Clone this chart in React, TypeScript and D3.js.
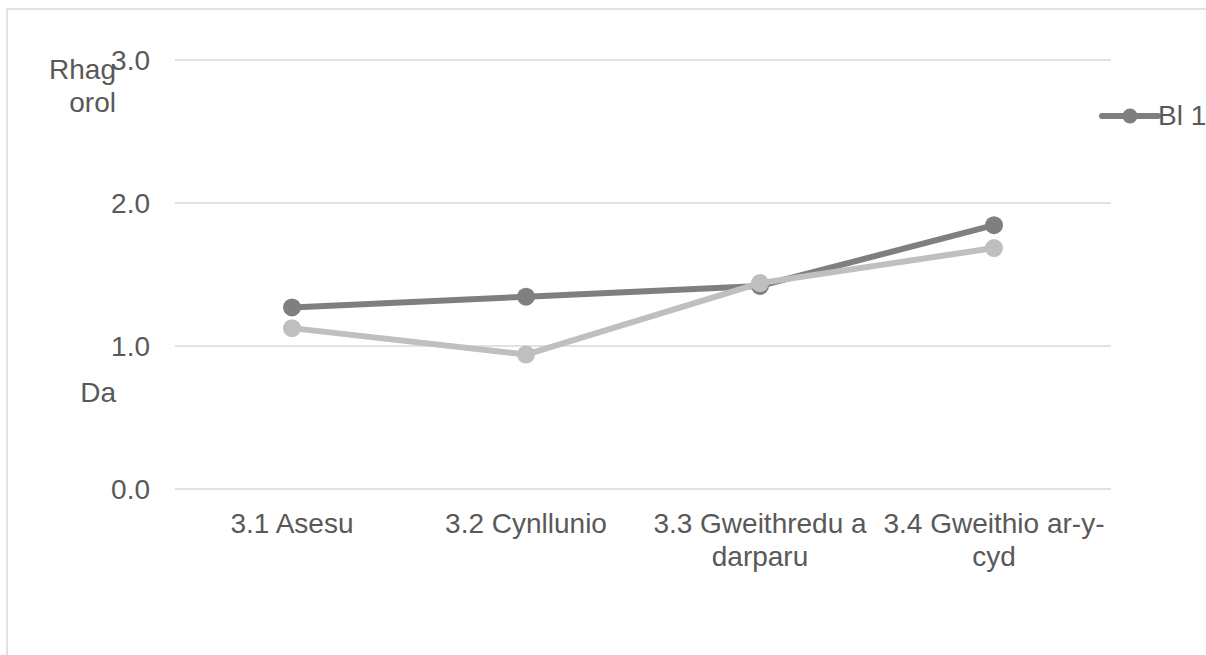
import * as d3 from 'd3'

const CATEGORIES = ['3.1 Asesu', '3.2 Cynllunio', '3.3 Gweithredu a darparu', '3.4 Gweithio ar-y-cyd']
const CATEGORY_LINES = [['3.1 Asesu'], ['3.2 Cynllunio'], ['3.3 Gweithredu a', 'darparu'], ['3.4 Gweithio ar-y-', 'cyd']]
const SERIES_DARK = [1.27, 1.345, 1.42, 1.845]
const SERIES_LIGHT = [1.125, 0.94, 1.44, 1.685]
const Y_TICKS = [0, 1, 2, 3]
const LEGEND_LABEL = 'Bl 1'

const WIDTH = 1206
const HEIGHT = 655
const PLOT = { left: 175, right: 1111, top: 60, bottom: 489 }
const FONT = '"Liberation Sans", Arial, sans-serif'
const TEXT = '#595959'
const DARK = '#7f7f7f'
const LIGHT = '#bfbfbf'
const GRID = '#d9d9d9'

export default function App() {
  const x = d3.scaleBand().domain(CATEGORIES).range([PLOT.left, PLOT.right])
  const y = d3.scaleLinear().domain([0, 3]).range([PLOT.bottom, PLOT.top])
  const cx = (c: string) => (x(c) ?? 0) + x.bandwidth() / 2

  const line = d3
    .line<number>()
    .x((_, i) => cx(CATEGORIES[i]))
    .y((v) => y(v))

  const series = [
    { values: SERIES_DARK, color: DARK },
    { values: SERIES_LIGHT, color: LIGHT },
  ]

  return (
    <svg
      width={WIDTH}
      height={HEIGHT}
      style={{ position: 'absolute', left: 0, top: 0, background: '#fff' }}
      fontFamily={FONT}
    >
      <rect x={7} y={9} width={1300} height={700} fill="#fff" stroke={GRID} strokeWidth={1.5} />

      {Y_TICKS.map((t) => (
        <g key={t}>
          <line x1={PLOT.left} x2={PLOT.right} y1={y(t)} y2={y(t)} stroke={GRID} strokeWidth={1.5} />
          <text x={150} y={y(t) + 10} textAnchor="end" fontSize={28} fill={TEXT}>
            {t.toFixed(1)}
          </text>
        </g>
      ))}

      <g fontSize={28} fill={TEXT} textAnchor="end">
        <text x={116} y={79}>Rhag</text>
        <text x={116} y={112}>orol</text>
        <text x={116} y={402}>Da</text>
      </g>

      {CATEGORIES.map((c, i) => (
        <text key={c} x={cx(c)} textAnchor="middle" fontSize={28} fill={TEXT}>
          {CATEGORY_LINES[i].map((l, j) => (
            <tspan key={j} x={cx(c)} y={533 + j * 32.5}>
              {l}
            </tspan>
          ))}
        </text>
      ))}

      {series.map((s, k) => (
        <g key={k}>
          <path d={line(s.values) ?? ''} fill="none" stroke={s.color} strokeWidth={6} strokeLinejoin="round" />
          {s.values.map((v, i) => (
            <circle key={i} cx={cx(CATEGORIES[i])} cy={y(v)} r={9} fill={s.color} />
          ))}
        </g>
      ))}

      <g>
        <line x1={1102} x2={1158} y1={116} y2={116} stroke={DARK} strokeWidth={6} strokeLinecap="round" />
        <circle cx={1130} cy={116} r={7.5} fill={DARK} />
        <text x={1158} y={125} fontSize={28} fill={TEXT}>
          {LEGEND_LABEL}
        </text>
      </g>
    </svg>
  )
}
